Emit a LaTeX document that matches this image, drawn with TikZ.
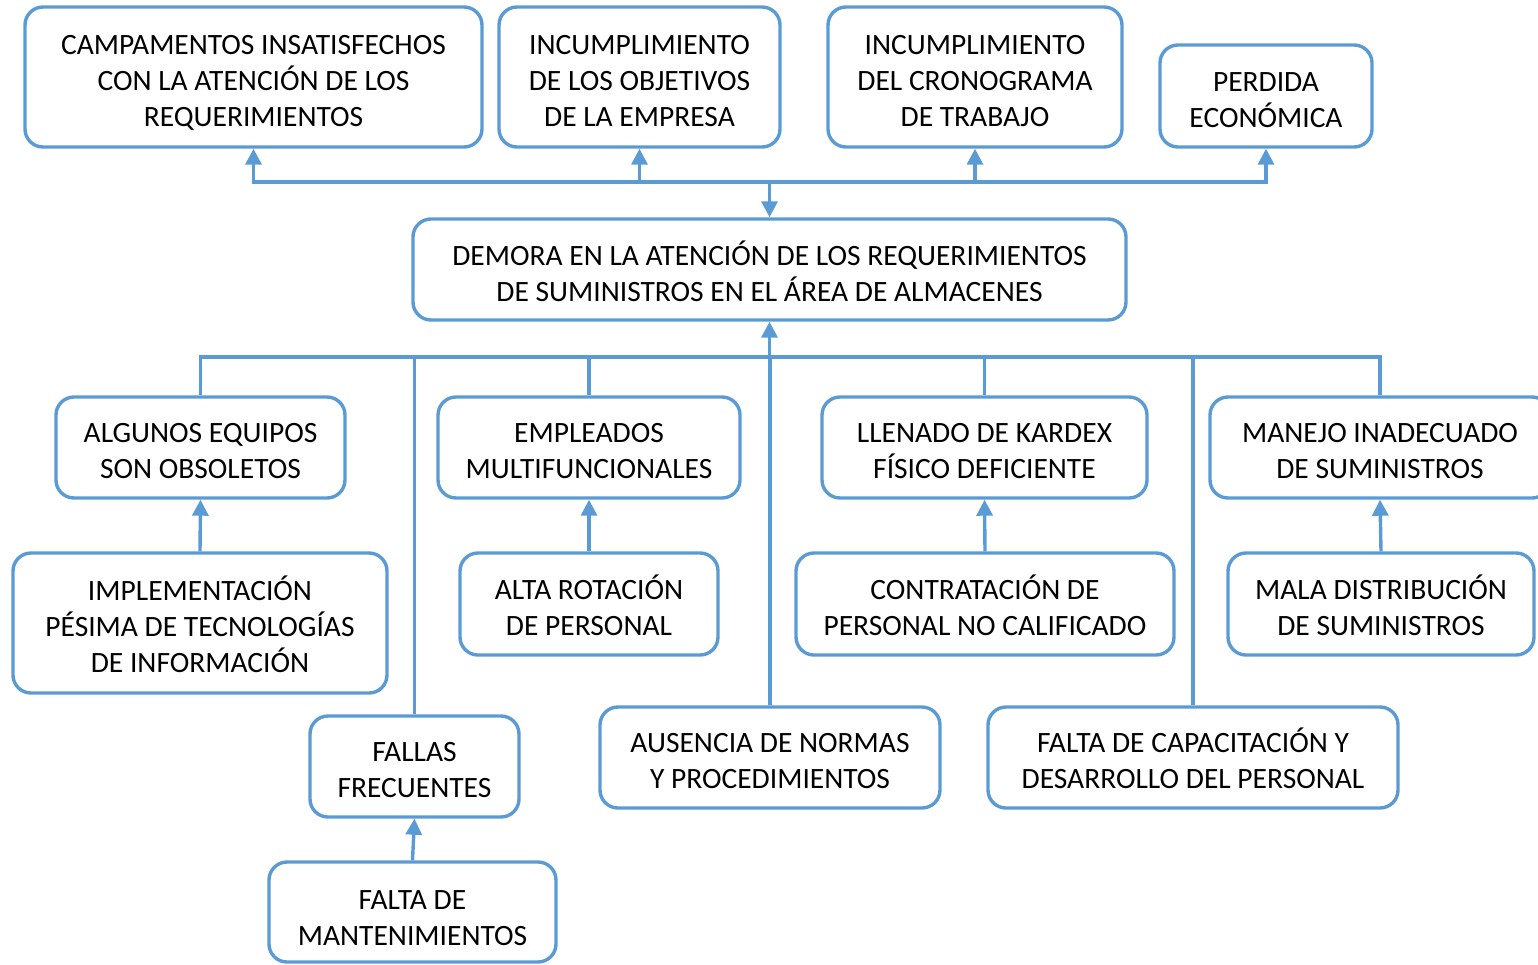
\documentclass[tikz,border=0pt]{standalone}
\usepackage{fontspec}
\setmainfont{Carlito}
\usetikzlibrary{arrows.meta}
\definecolor{lb}{HTML}{5B9BD5}
\newcommand\bt[2][-6pt]{\raisebox{#1}[\height][\depth]{\begin{tabular}{@{}c@{}}#2\end{tabular}}}
\begin{document}
\begin{tikzpicture}[x=1pt,y=1pt,
  box/.style={draw=lb,line width=3.4pt,rounded corners=18pt,inner sep=0pt,
    font=\fontsize{29.5}{36}\selectfont},
  link/.style={draw=lb,line width=3.4pt},
  arr/.style={link,-{Triangle[width=16pt,length=16pt]}}]
\useasboundingbox (0,0) rectangle (1538,-964);
% top row
\node[box,minimum width=457,minimum height=140] (b1) at (253.5,-77) {\bt{CAMPAMENTOS INSATISFECHOS\\CON LA ATENCIÓN DE LOS\\REQUERIMIENTOS}};
\node[box,minimum width=281,minimum height=140] (b2) at (639.5,-77) {\bt{INCUMPLIMIENTO\\DE LOS OBJETIVOS\\DE LA EMPRESA}};
\node[box,minimum width=294,minimum height=140] (b3) at (975,-77) {\bt{INCUMPLIMIENTO\\DEL CRONOGRAMA\\DE TRABAJO}};
\node[box,minimum width=212,minimum height=102] (b4) at (1266,-96) {\bt{PERDIDA\\ECONÓMICA}};
% central
\node[box,minimum width=713,minimum height=101] (c) at (769.5,-269.5) {\bt[-7pt]{DEMORA EN LA ATENCIÓN DE LOS REQUERIMIENTOS\\DE SUMINISTROS EN EL ÁREA DE ALMACENES}};
% second row
\node[box,minimum width=289,minimum height=101] (a1) at (200.5,-447.5) {\bt{ALGUNOS EQUIPOS\\SON OBSOLETOS}};
\node[box,minimum width=302,minimum height=101] (a2) at (589,-447.5) {\bt{EMPLEADOS\\MULTIFUNCIONALES}};
\node[box,minimum width=325,minimum height=101] (a3) at (984.5,-447.5) {\bt{LLENADO DE KARDEX\\FÍSICO DEFICIENTE}};
\node[box,minimum width=340,minimum height=101] (a4) at (1380,-447.5) {\bt{MANEJO INADECUADO\\DE SUMINISTROS}};
% third row
\node[box,minimum width=374,minimum height=140] (k1) at (200,-623) {\bt{IMPLEMENTACIÓN\\PÉSIMA DE TECNOLOGÍAS\\DE INFORMACIÓN}};
\node[box,minimum width=258,minimum height=102] (k2) at (589,-604) {\bt{ALTA ROTACIÓN\\DE PERSONAL}};
\node[box,minimum width=378,minimum height=102] (k3) at (985,-604) {\bt{CONTRATACIÓN DE\\PERSONAL NO CALIFICADO}};
\node[box,minimum width=306,minimum height=102] (k4) at (1381,-604) {\bt{MALA DISTRIBUCIÓN\\DE SUMINISTROS}};
% fourth row
\node[box,minimum width=209,minimum height=101] (d1) at (414.5,-766.5) {\bt{FALLAS\\FRECUENTES}};
\node[box,minimum width=340,minimum height=101] (d2) at (770,-757.5) {\bt{AUSENCIA DE NORMAS\\Y PROCEDIMIENTOS}};
\node[box,minimum width=410,minimum height=101] (d3) at (1193,-757.5) {\bt{FALTA DE CAPACITACIÓN Y\\DESARROLLO DEL PERSONAL}};
% fifth row
\node[box,minimum width=287,minimum height=100] (e1) at (412.5,-912) {\bt[-8pt]{FALTA DE\\MANTENIMIENTOS}};
% connectors top
\coordinate (jt) at (769.5,-182);
\draw[arr] (jt) -| (b1.south);
\draw[arr] (jt) -| (b2.south);
\draw[arr] (jt) -| (b3.south);
\draw[arr] (jt) -| (b4.south);
\draw[arr] (jt) -- (c.north);
% connectors bottom
\coordinate (jb) at (769.5,-357);
\draw[link] (jb) -| (a1.north);
\draw[link] (jb) -| (a2.north);
\draw[link] (jb) -| (a3.north);
\draw[link] (jb) -| (a4.north);
\draw[link] (jb) -| (d1.north);
\draw[link] (jb) -| (d2.north);
\draw[link] (jb) -| (d3.north);
\draw[arr] (jb) -- (c.south);
% cause arrows
\draw[arr] (k1.north) -- (a1.south);
\draw[arr] (k2.north) -- (a2.south);
\draw[arr] (k3.north) -- (a3.south);
\draw[arr] (k4.north) -- (a4.south);
\draw[arr] (e1.north) -- (d1.south);
\end{tikzpicture}
\end{document}
